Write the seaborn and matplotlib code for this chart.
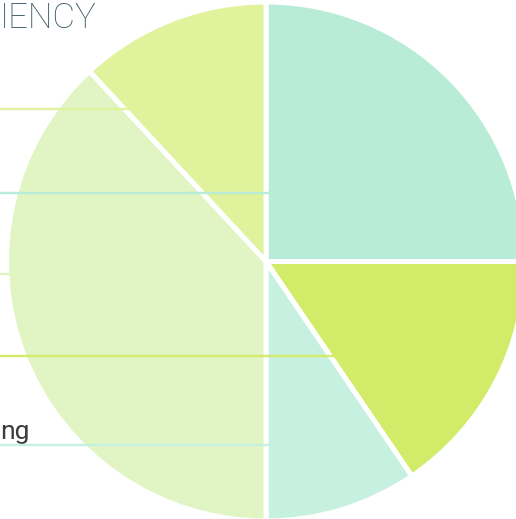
"""
Cropped pie chart with left-side leader lines (recreation).

Run: python plot.py  -> out.png
"""

import numpy as np
import pandas as pd
import matplotlib
matplotlib.use("Agg")
import matplotlib.pyplot as plt
import seaborn as sns

sns.set_theme(style="white")
plt.rcParams["font.family"] = ["Roboto", "DejaVu Sans"]

# slices, clockwise from 12 o'clock
slices = ["teal", "lime", "mint", "pale green", "pale yellow"]
shares = [25.0, 15.5, 9.5, 38.1, 11.9]
colors = ["#b8ecd7", "#d2ec69", "#c6f0e0", "#e1f5c4", "#e0f29c"]

# label rows (pixel y from top) for each slice's leader line
label_rows = [193, 356, 445, 274, 109]
visible_label = "ng"          # only the tail of one label is inside the crop
title_text = "IENCY"          # only the tail of the title is inside the crop

W, H = 516, 519
CX, CY = 266.0, 261.5         # pie centre in pixels (y from top)
R = 259.5

fig = plt.figure(figsize=(W / 100, H / 100), dpi=100)
ax = fig.add_axes([0, 0, 1, 1])

wedges, _ = ax.pie(shares, colors=colors, startangle=90, counterclock=False,
                   center=(CX, H - CY), radius=R,
                   wedgeprops=dict(edgecolor="white", linewidth=3.6))

# leader lines: from off-canvas left into the middle of each wedge
total = sum(shares)
start = 0.0
rows = []
for name, val, col, y in zip(slices, shares, colors, label_rows):
    mid = np.deg2rad((start + val / 2) / total * 360)
    start += val
    t = (y - CY) / (-np.cos(mid))
    x_end = CX + t * np.sin(mid)
    rows.append((name, col, [-20, x_end], [H - y, H - y]))

for name, col, xs, ys in rows:
    sns.lineplot(x=xs, y=ys, color=col, lw=1.7, ax=ax, zorder=5,
                 estimator=None, sort=False)

ax.text(29, H - 439, visible_label, ha="right", va="baseline",
        fontsize=19, color="#3c3c3c")
ax.text(0, H - 28, title_text, ha="left", va="baseline",
        fontsize=25, fontweight=100, color="#3f5f68")

ax.set_xlim(0, W)
ax.set_ylim(0, H)
ax.set_aspect("auto")
ax.axis("off")

fig.savefig("out.png", dpi=100)
plt.close(fig)
